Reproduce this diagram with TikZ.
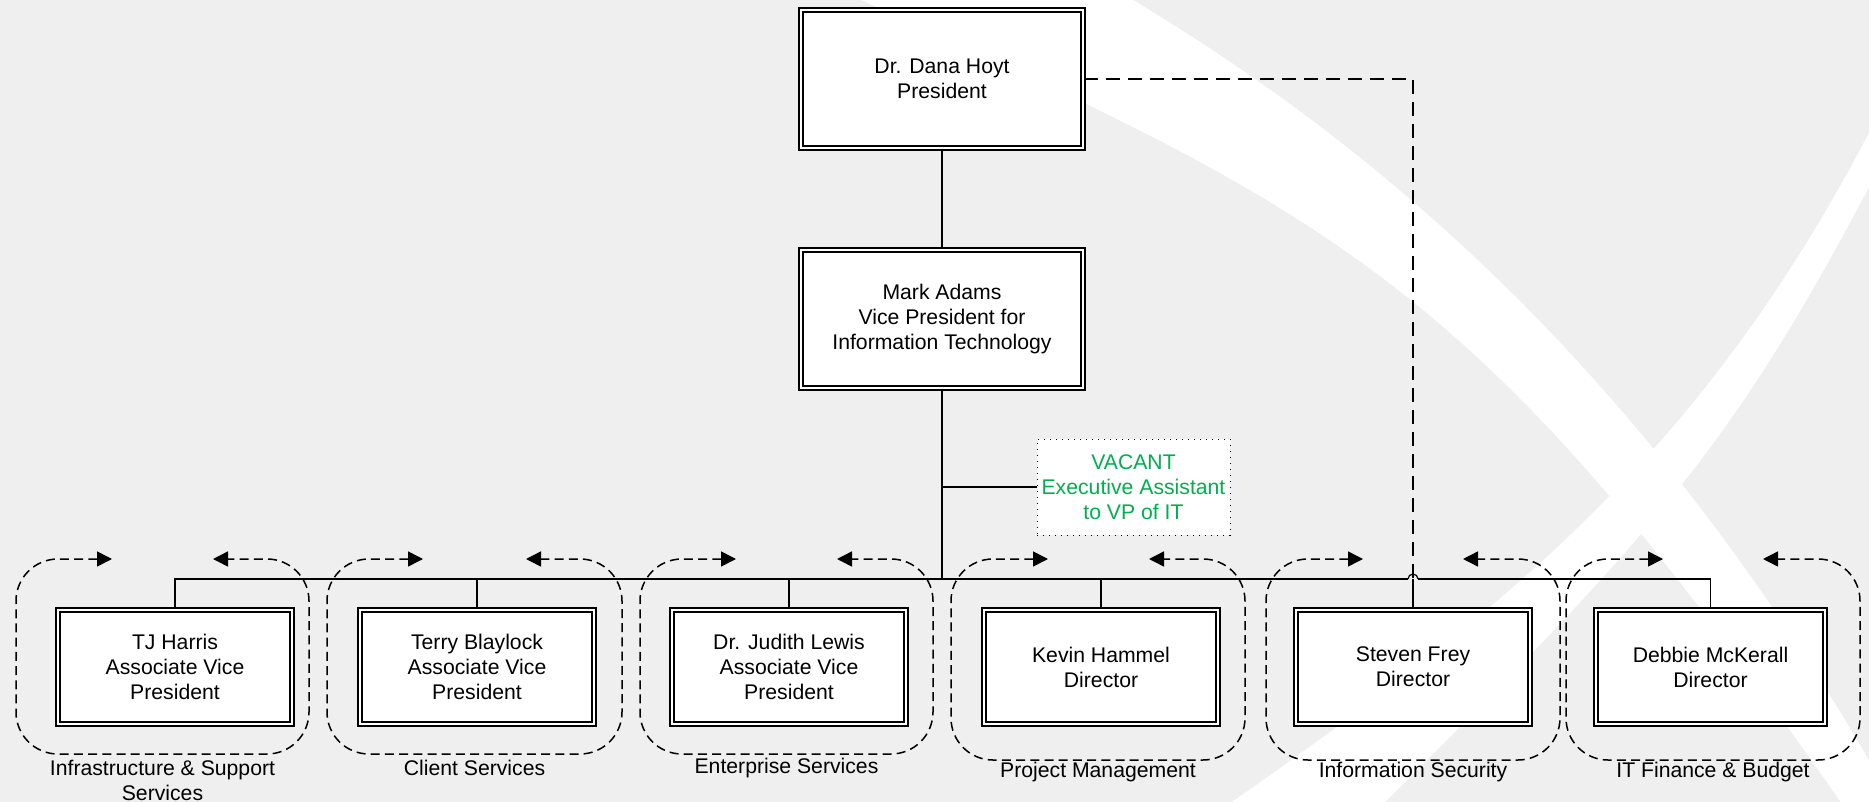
\documentclass[tikz,border=0pt]{standalone}
\usepackage{fontspec}
\setmainfont{Liberation Sans}
\usetikzlibrary{arrows.meta}
\definecolor{bg}{HTML}{EFEFEF}
\definecolor{vgreen}{HTML}{00B050}
\begin{document}
\begin{tikzpicture}[x=0.5pt,y=-0.5pt,
  txt/.style={font=\fontsize{10.6pt}{12.5pt}\selectfont, align=center},
  box/.style={txt, draw, double, double distance=1.2pt, line width=0.85pt, fill=white, inner sep=0pt},
  bigbox/.style={box, minimum width=141pt, minimum height=69pt},
  smallbox/.style={box, minimum width=117pt, minimum height=57pt},
  vacbox/.style={txt, draw, line width=0.5pt, dash pattern=on 0.6pt off 2.4pt, fill=white, text=vgreen, inner sep=0pt, minimum width=96.5pt, minimum height=48pt},
  conn/.style={line width=0.85pt},
  thinconn/.style={line width=0.6pt},
  dline/.style={line width=0.7pt, dash pattern=on 7pt off 4pt},
  grp/.style={line width=0.75pt, dash pattern=on 4.5pt off 2.6pt, rounded corners=21pt, {Triangle[length=7.5pt,width=7.5pt]}-{Triangle[length=7.5pt,width=7.5pt]}},
  lbl/.style={txt, inner sep=0pt}
]
\useasboundingbox (0,0) rectangle (1869,802);
\begin{scope}
\clip (0,0) rectangle (1869,802);
\fill[bg] (0,0) rectangle (1869,802);
% band A (from the top, sweeping down to the bottom right)
\fill[white] (1133,0) .. controls (1433,180) and (1669,420) .. (1869,760)
  -- (1950,900) -- (1860,830)
  .. controls (1485,286) and (1350,220) .. (850,-5) -- cycle;
% band B (from the bottom, sweeping up to the right edge)
\fill[white] (1232,802) .. controls (1532,592) and (1709,437) .. (1869,133)
  -- (1885,133) -- (1869,187)
  .. controls (1729,453) and (1645,542) .. (1385,802) -- cycle;
\end{scope}

% nodes
\node[bigbox] (pres) at (942,79) {Dr. Dana Hoyt\\President};
\node[bigbox] (vp) at (942,319) {Mark Adams\\Vice President for\\Information Technology};
\node[vacbox] (vac) at (1133.5,487) {VACANT\\Executive Assistant\\to VP of IT};
\node[smallbox] (c1) at (175,667) {TJ Harris\\Associate Vice\\President};
\node[smallbox] (c2) at (477,667) {Terry Blaylock\\Associate Vice\\President};
\node[smallbox] (c3) at (789,667) {Dr. Judith Lewis\\Associate Vice\\President};
\node[smallbox] (c4) at (1101,667) {Kevin Hammel\\Director};
\node[smallbox] (c5) at (1413,667) {Steven Frey\\Director};
\node[smallbox, minimum width=114.5pt] (c6) at (1710.5,667) {Debbie McKerall\\Director};

% connectors
\coordinate (bus) at (942,579);
\coordinate (hopL) at (1408,579);
\coordinate (hopR) at (1418,579);
\draw[conn] (pres.south) -- (vp.north);
\draw[conn] (vp.south) -- (bus);
\draw[conn] (vac.west) -- (vac.west -| vp.south);
\draw[conn] (c1.north) |- (bus);
\draw[conn] (c2.north) |- (bus);
\draw[conn] (c3.north) |- (bus);
\draw[conn] (c4.north) |- (bus);
\draw[conn] (bus) -- (hopL);
\draw[conn] (c5.north) -- (c5.north |- bus);
\draw[thinconn] (c6.north) |- (hopR);
\draw[thinconn] (hopL) arc[start angle=-180, end angle=0, radius=5];
\draw[dline] (pres.east) -| (c5.north);

% groups
\draw[grp] (112,559) -- (16,559) -- (16,754) -- (309,754) -- (309,559) -- (213,559);
\draw[grp] (423,559) -- (327,559) -- (327,754) -- (622,754) -- (622,559) -- (526,559);
\draw[grp] (736,559) -- (640,559) -- (640,754) -- (933,754) -- (933,559) -- (837,559);
\draw[grp] (1048,559) -- (951,559) -- (951,760) -- (1245,760) -- (1245,559) -- (1149,559);
\draw[grp] (1363,559) -- (1266,559) -- (1266,760) -- (1560,760) -- (1560,559) -- (1463,559);
\draw[grp] (1663,559) -- (1566,559) -- (1566,760) -- (1860,760) -- (1860,559) -- (1763,559);

% group labels
\node[lbl] (g1) at (162.5,780) {Infrastructure \& Support\\Services};
\node[lbl] (g2) at (474.5,768) {Client Services};
\node[lbl] (g3) at (786.5,768) {Enterprise Services};
\node[lbl] (g4) at (1098,772) {Project Management};
\node[lbl] (g5) at (1413,772) {Information Security};
\node[lbl] (g6) at (1713,772) {IT Finance \& Budget};
\end{tikzpicture}
\end{document}
